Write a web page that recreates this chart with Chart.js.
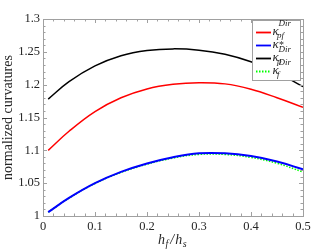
<!DOCTYPE html>
<html><head><meta charset="utf-8">
<script src="https://cdn.jsdelivr.net/npm/chart.js@4/dist/chart.umd.min.js"></script>
<style>html,body{margin:0;padding:0;background:#fff;}#wrap{width:334px;height:251px;}</style>
</head><body><div id="wrap"><canvas id="c" width="334" height="251"></canvas></div>
<script>
const xVals = [0.01, 0.05, 0.10, 0.15, 0.20, 0.25, 0.30, 0.35, 0.40, 0.45, 0.50];
const kPF   = [1.1000, 1.1290, 1.1590, 1.1800, 1.1935, 1.2005, 1.2030, 1.2012, 1.1930, 1.1800, 1.1655];
const kStar = [1.0058, 1.0275, 1.0500, 1.0672, 1.0800, 1.0895, 1.0955, 1.0955, 1.0912, 1.0830, 1.0711];
const kP    = [1.1780, 1.2045, 1.2285, 1.2440, 1.2520, 1.2545, 1.2525, 1.2462, 1.2348, 1.2185, 1.1970];
const kF    = [1.0058, 1.0272, 1.0495, 1.0663, 1.0788, 1.0882, 1.0938, 1.0937, 1.0892, 1.0803, 1.0670];
const xTicks = [0, 0.1, 0.2, 0.3, 0.4, 0.5];
const yTicks = [1, 1.05, 1.1, 1.15, 1.2, 1.25, 1.3];
const yTitle = 'normalized curvatures';

const pts = arr => arr.map((y, i) => ({x: xVals[i], y}));
const SERIF = '"Liberation Serif", "DejaVu Serif", serif';
const FRAME = '#a0a0a0';
const TXT = '#262626';

const legendItems = [
  {color: '#ff0000', dash: [], sup: 'Dir', sub: 'pf'},
  {color: '#0000ff', dash: [], sup: '*', sub: ''},
  {color: '#000000', dash: [], sup: 'Dir', sub: 'p'},
  {color: '#00ff00', dash: [1.5, 1.5], sup: 'Dir', sub: 'f'}
];

const decor = {
  id: 'decor',
  afterDraw(chart) {
    const ctx = chart.ctx, a = chart.chartArea;
    const xs = chart.scales.x, ys = chart.scales.y;
    ctx.save();
    ctx.strokeStyle = FRAME; ctx.lineWidth = 1;
    ctx.strokeRect(Math.round(a.left) + 0.5, Math.round(a.top) + 0.5, Math.round(a.right - a.left), Math.round(a.bottom - a.top));
    ctx.beginPath();
    for (let i = 0; i <= 25; i++) {
      const v = i * 0.02;
      const px = Math.round(xs.getPixelForValue(v)) + 0.5;
      const L = (i % 5 === 0) ? 4 : 2.5;
      ctx.moveTo(px, a.bottom); ctx.lineTo(px, a.bottom - L);
      ctx.moveTo(px, a.top); ctx.lineTo(px, a.top + L);
    }
    for (let i = 0; i <= 30; i++) {
      const v = 1 + i * 0.01;
      const py = Math.round(ys.getPixelForValue(v)) + 0.5;
      const L = (i % 5 === 0) ? 4 : 2.5;
      ctx.moveTo(a.left, py); ctx.lineTo(a.left + L, py);
      ctx.moveTo(a.right, py); ctx.lineTo(a.right - L, py);
    }
    ctx.stroke();

    // legend
    const lx = 252.5, ly = 20.5, lw = 48, lh = 60;
    ctx.fillStyle = '#fff';
    ctx.fillRect(lx, ly, lw, lh);
    ctx.strokeStyle = FRAME;
    ctx.strokeRect(lx, ly, lw, lh);
    const rows = [32, 45, 58, 71];
    legendItems.forEach((it, i) => {
      const y = rows[i];
      ctx.strokeStyle = it.color; ctx.lineWidth = 1.8; ctx.setLineDash(it.dash);
      ctx.beginPath(); ctx.moveTo(256, y + 0.5); ctx.lineTo(271, y + 0.5); ctx.stroke();
      ctx.setLineDash([]);
      ctx.fillStyle = TXT; ctx.textBaseline = 'alphabetic'; ctx.textAlign = 'left';
      ctx.font = 'italic 13px ' + SERIF;
      ctx.fillText('\u03BA', 272.5, y + 3);
      if (it.sup === '*') {
        ctx.font = '10px ' + SERIF;
        ctx.fillText('*', 279, y + 3);
      } else {
        ctx.font = 'italic 9px ' + SERIF;
        ctx.fillText(it.sup, 278.5, y - 6);
      }
      if (it.sub) { ctx.font = 'italic 9px ' + SERIF; ctx.fillText(it.sub, 277, y + 6); }
    });

    // x title h_f/h_s
    ctx.fillStyle = TXT; ctx.textAlign = 'left'; ctx.textBaseline = 'alphabetic';
    let x = 158, by = 244;
    ctx.font = 'italic 14px ' + SERIF;
    ctx.fillText('h', x, by); x += ctx.measureText('h').width + 0.5;
    ctx.font = 'italic 10px ' + SERIF;
    ctx.fillText('f', x, by + 2.5); x += ctx.measureText('f').width + 2;
    ctx.font = 'italic 14px ' + SERIF;
    ctx.fillText('/', x, by); x += ctx.measureText('/').width + 1;
    ctx.fillText('h', x, by); x += ctx.measureText('h').width + 0.5;
    ctx.font = 'italic 10px ' + SERIF;
    ctx.fillText('s', x, by + 2.5);
    ctx.restore();
  }
};

const common = {pointRadius: 0, tension: 0.4, fill: false};
new Chart(document.getElementById('c'), {
  type: 'line',
  data: {
    datasets: [
      Object.assign({label: 'kpf', data: pts(kPF), borderColor: '#ff0000', borderWidth: 1.5}, common),
      Object.assign({label: 'kstar', data: pts(kStar), borderColor: '#0000ff', borderWidth: 2}, common),
      Object.assign({label: 'kp', data: pts(kP), borderColor: '#000000', borderWidth: 1.5}, common),
      Object.assign({label: 'kf', data: pts(kF), borderColor: '#00ff00', borderWidth: 1.5, borderDash: [1.5, 1.5]}, common)
    ]
  },
  options: {
    responsive: false, animation: false, devicePixelRatio: 1,
    layout: {padding: {left: 0, right: 31, top: 19, bottom: 0}},
    plugins: {legend: {display: false}, tooltip: {enabled: false}},
    scales: {
      x: {
        type: 'linear', min: 0, max: 0.5,
        afterBuildTicks: s => { s.ticks = xTicks.map(v => ({value: v})); },
        afterFit: s => { s.height = 35; },
        grid: {display: false, drawTicks: false}, border: {display: false},
        ticks: {color: TXT, font: {family: SERIF, size: 12.5}, padding: 3, maxRotation: 0,
          callback: v => String(parseFloat(v.toFixed(2)))}
      },
      y: {
        type: 'linear', min: 1, max: 1.3,
        afterBuildTicks: s => { s.ticks = yTicks.map(v => ({value: v})); },
        afterFit: s => { s.width = 43; },
        grid: {display: false, drawTicks: false}, border: {display: false},
        title: {display: true, text: yTitle, color: TXT, font: {family: SERIF, size: 14}, padding: 0},
        ticks: {color: TXT, font: {family: SERIF, size: 12.5}, padding: 3,
          callback: v => String(parseFloat(v.toFixed(2)))}
      }
    }
  },
  plugins: [decor]
});
</script></body></html>
